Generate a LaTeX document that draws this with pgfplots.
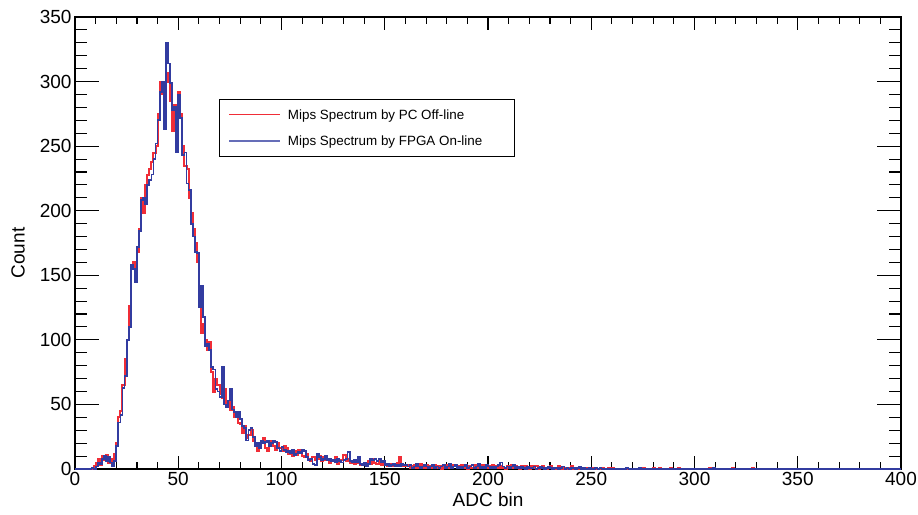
\documentclass[border=0pt]{standalone}
\usepackage{fontspec}
\setmainfont{Liberation Sans}
\usepackage{pgfplots}
\usepackage{pgfplotstable}
\pgfplotsset{compat=1.18}

\definecolor{pcred}{RGB}{240,45,55}
\definecolor{fpgablue}{RGB}{50,60,160}

% bin low edge, PC off-line counts, FPGA on-line counts (const plot holds value to next row)
\pgfplotstableread{
adc pc fpga
0 0 0
8 0 1
9 2 0
10 5 2
11 8 5
12 3 4
13 10 8
14 7 10
15 11 6
16 5 9
17 8 5
18 3 2
19 12 6
20 20 18
21 40 36
22 45 42
23 65 63
24 85 72
25 100 100
26 126 110
27 158 158
28 160 155
29 152 145
30 168 172
31 186 184
32 210 208
33 198 210
34 220 205
35 228 220
36 232 224
37 238 228
38 245 240
39 250 252
40 275 270
41 300 292
42 290 300
43 285 263
44 300 330
45 307 314
46 285 299
47 262 278
48 282 280
49 270 245
50 292 290
51 275 272
52 250 243
53 235 245
54 232 221
55 210 216
56 198 190
57 186 180
58 175 168
59 160 167
60 128 125
61 105 142
62 112 118
63 100 95
64 92 97
65 98 92
66 75 79
67 60 77
68 70 62
69 65 60
70 58 56
71 55 79
72 62 50
73 50 48
74 52 53
75 46 62
76 48 46
77 40 44
78 44 40
79 36 44
80 35 39
81 28 33
82 33 32
83 24 22
84 26 30
85 30 32
86 22 25
87 20 18
88 14 20
89 18 16
90 22 22
91 24 20
92 16 21
93 14 22
94 18 18
95 22 20
96 18 22
97 15 21
98 20 16
99 16 14
100 14 17
101 18 15
102 16 13
103 12 14
104 13 12
105 10 15
106 14 11
107 11 12
108 15 13
109 13 12
110 10 15
111 9 14
112 12 9
113 8 7
114 6 8
115 9 4
116 7 3
117 8 12
118 10 9
119 6 7
120 9 8
121 7 10
122 8 7
123 5 8
124 7 6
125 6 7
126 9 5
127 4 8
128 6 6
129 7 5
130 11 7
131 6 8
132 8 13
133 5 6
134 6 5
135 4 7
136 7 5
137 5 9
138 3 4
139 4 3
140 3 5
141 5 2
142 6 4
143 4 8
144 8 7
145 5 8
146 4 6
147 6 8
148 3 5
149 5 6
150 4 3
151 2 4
152 3 2
153 4 3
154 2 4
155 3 2
156 5 3
157 9 2
158 3 4
159 2 3
160 2 3
161 3 2
162 1 3
163 2 1
164 3 2
165 1 4
166 2 2
167 4 1
168 2 2
169 1 3
170 3 2
171 2 1
172 1 2
173 2 3
174 3 1
175 1 2
176 2 1
177 0 2
178 2 3
179 3 1
180 1 2
181 2 4
182 1 1
183 3 2
184 2 3
185 1 1
186 2 2
187 3 1
188 1 2
189 2 3
190 0 1
191 2 2
192 1 3
193 3 1
194 2 2
195 1 4
196 2 1
197 3 2
198 1 1
199 2 3
200 1 2
201 2 1
202 3 2
203 1 1
204 2 2
205 1 3
206 2 5
207 1 2
208 0 1
209 2 2
210 1 1
211 3 2
212 1 3
213 2 1
214 1 2
215 0 1
216 2 2
217 1 1
218 2 0
219 1 2
220 0 1
221 2 1
222 1 2
223 2 0
224 0 1
225 1 2
226 2 1
227 1 0
228 0 1
229 1 2
230 2 1
231 1 0
232 0 1
233 1 1
234 2 0
235 1 1
236 0 2
237 1 0
238 0 1
239 1 0
240 2 1
241 0 1
242 1 0
243 0 1
244 1 2
245 0 0
246 1 1
247 0 0
248 1 0
249 0 1
250 1 0
251 0 0
252 1 1
253 0 0
254 0 1
255 1 0
256 0 0
258 1 0
259 0 0
260 1 0
261 0 0
267 1 1
268 0 0
273 0 1
274 0 0
275 1 0
276 0 0
280 1 0
281 0 0
283 1 0
284 0 0
288 1 0
289 0 0
292 1 0
293 0 0
307 1 0
308 0 0
309 0 1
310 0 0
318 1 0
319 0 0
328 1 0
329 0 0
400 0 0
}\spectrum

\pgfplotsset{
  rootframe/.style={
    scale only axis,
    width=826pt, height=452pt,
    xmin=0, xmax=400, ymin=0, ymax=350,
    tick align=inside,
    axis line style={line width=1.2pt},
    every tick/.style={black, line width=1.1pt},
    ticklabel style={font=\fontsize{19}{22}\selectfont},
    /pgf/number format/assume math mode=true,
  },
}

\begin{document}
\begin{tikzpicture}
% x ticks are shorter than y ticks, so they live in an overlaid axis
\begin{axis}[
  rootframe,
  xtick={0,50,...,400}, minor x tick num=4,
  ytick=\empty,
  major tick length=13pt, minor tick length=7pt,
  xlabel={ADC bin},
  xlabel style={font=\fontsize{19}{22}\selectfont, at={(axis description cs:0.5,0)}, anchor=base, yshift=-37pt},
]
\end{axis}

\begin{axis}[
  rootframe,
  name=ax,
  xtick=\empty,
  ytick={0,50,...,350}, minor y tick num=4,
  major tick length=24pt, minor tick length=12pt,
  ylabel={Count},
  ylabel style={font=\fontsize{19}{22}\selectfont, at={(axis description cs:0,0.478)}, anchor=center, yshift=57pt},
  legend style={at={(rel axis cs:0.1743,0.8186)}, anchor=north west,
    draw=black, line width=1pt, font=\fontsize{13.4}{15}\selectfont,
    inner xsep=9pt, inner ysep=7pt, row sep=9pt,
    nodes={inner sep=3pt}},
  legend cell align=left,
]
\addplot[const plot, draw=pcred, line width=2pt,
  legend image code/.code={\draw[draw=pcred, line width=1.5pt] (0pt,0.5pt) -- (51pt,0.5pt);}]
  table[x=adc, y=pc] {\spectrum};
\addlegendentry{\hspace*{4pt}Mips Spectrum by PC Off-line\hspace*{20pt}\mbox{}}
\addplot[const plot, draw=fpgablue, line width=1.8pt,
  legend image code/.code={\draw[draw=fpgablue!75!white, line width=1.5pt] (0pt,0.5pt) -- (51pt,0.5pt);}]
  table[x=adc, y=fpga] {\spectrum};
\addlegendentry{\hspace*{4pt}Mips Spectrum by FPGA On-line\hspace*{20pt}\mbox{}}
\end{axis}

\pgfresetboundingbox
\path ([xshift=-75pt,yshift=-45pt]ax.south west) rectangle ([xshift=17pt,yshift=17pt]ax.north east);
\end{tikzpicture}
\end{document}
